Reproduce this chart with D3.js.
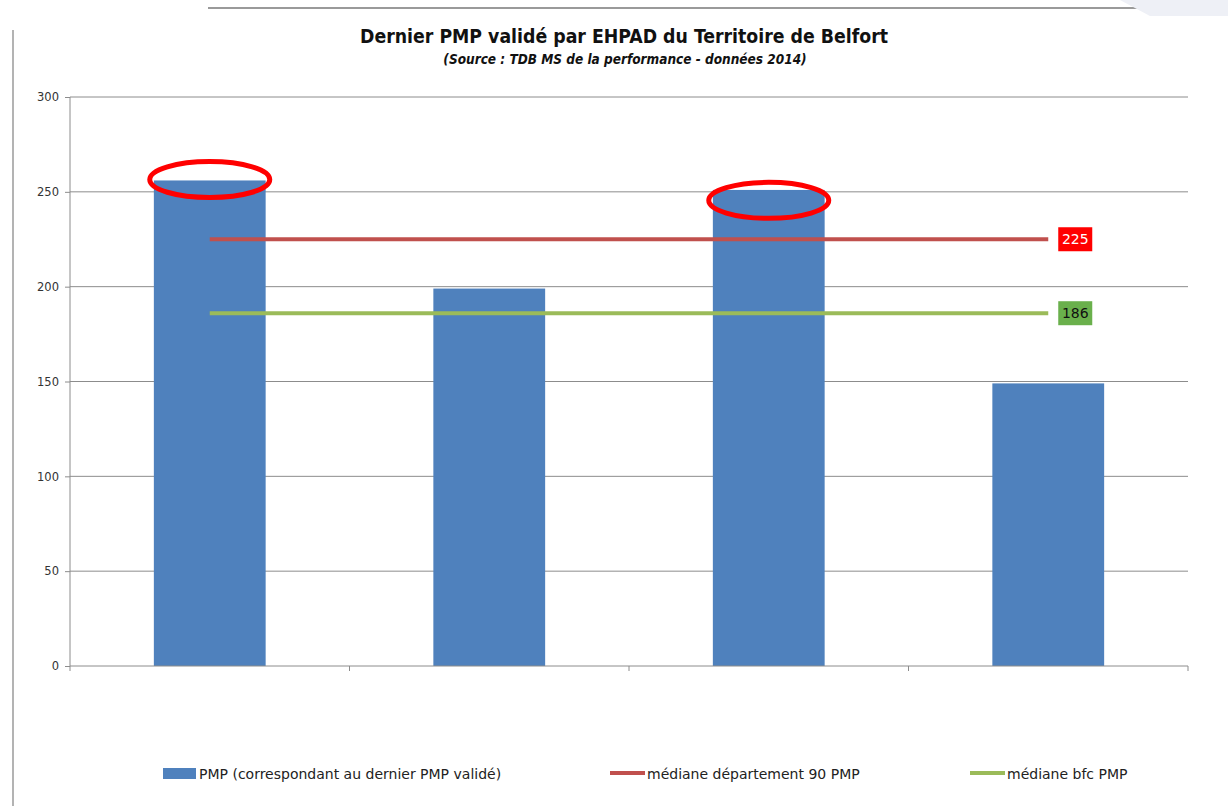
<!DOCTYPE html>
<meta charset="utf-8">
<title>Dernier PMP validé par EHPAD</title>
<style>
  body { margin: 0; background: #fff; }
  svg { font-family: "DejaVu Sans", sans-serif; }
  .grid line { stroke: #8c8c8c; stroke-width: 1px; }
  .axis path, .axis line { stroke: #8c8c8c; }
  .axis text { fill: #333; font-size: 11.5px; font-family: "DejaVu Sans", sans-serif; }
  .legend text { font-size: 14px; fill: #222; }
  .cond { font-family: "DejaVu Sans Condensed", "DejaVu Sans", sans-serif; }
</style>
<body>
<script src="https://cdn.jsdelivr.net/npm/d3@7"></script>
<script>

var width = 1228,
    height = 806;

// data
var categories = ["EHPAD 1", "EHPAD 2", "EHPAD 3", "EHPAD 4"];
var pmpValues = [256, 199, 251, 149];
var medianDept = 225;
var medianBfc = 186;
var yTicks = [0, 50, 100, 150, 200, 250, 300];
// circled bars (index, centre value)
var circled = [[0, 256.5], [2, 245.5]];

var margin = {top: 97, right: 40, bottom: 140, left: 70};

var svg = d3.select("body").append("svg")
  .attr("width", width)
  .attr("height", height);

// page decorations
svg.append("line").attr("x1", 208).attr("x2", width).attr("y1", 8).attr("y2", 8)
  .attr("stroke", "#9a9a9a").attr("stroke-width", 2);
svg.append("line").attr("x1", 13).attr("x2", 13).attr("y1", 30).attr("y2", height)
  .attr("stroke", "#9a9a9a").attr("stroke-width", 1.5);
svg.append("path").attr("d", "M1120,0 L1228,0 L1228,16 L1150,16 Z").attr("fill", "#eef0f6");

var x = d3.scaleBand()
  .domain(categories)
  .range([margin.left, 1188])
  .padding(0);

var y = d3.scaleLinear()
  .domain([0, 300])
  .range([666, margin.top]);

var barW = x.bandwidth() * 0.4;

// title
svg.append("text")
  .attr("class", "cond")
  .attr("x", 624).attr("y", 43)
  .attr("text-anchor", "middle")
  .attr("font-weight", "bold")
  .attr("font-size", "19.3px")
  .attr("fill", "#111")
  .text("Dernier PMP validé par EHPAD du Territoire de Belfort");

svg.append("text")
  .attr("class", "cond")
  .attr("x", 625).attr("y", 64)
  .attr("text-anchor", "middle")
  .attr("font-weight", "bold")
  .attr("font-style", "italic")
  .attr("font-size", "13.5px")
  .attr("fill", "#111")
  .text("(Source : TDB MS de la performance - données 2014)");

// gridlines
svg.append("g").attr("class", "grid")
  .selectAll("line").data(yTicks.filter(function(d) { return d > 0; }))
  .enter().append("line")
  .attr("x1", margin.left).attr("x2", 1188)
  .attr("y1", function(d) { return y(d); })
  .attr("y2", function(d) { return y(d); });

// y axis
var yAxis = svg.append("g").attr("class", "axis")
  .attr("transform", "translate(" + margin.left + ",0)")
  .call(d3.axisLeft(y).tickValues(yTicks).tickSize(5).tickPadding(6));
yAxis.select(".domain").attr("d", "M0," + y(300) + "V" + y(0));

// bars
svg.selectAll(".bar").data(pmpValues)
  .enter().append("rect")
  .attr("class", "bar")
  .attr("x", function(d, i) { return x(categories[i]) + (x.bandwidth() - barW) / 2; })
  .attr("width", barW)
  .attr("y", function(d) { return y(d); })
  .attr("height", function(d) { return y(0) - y(d); })
  .attr("fill", "#4f81bd");

// x axis
var xAxis = svg.append("g").attr("class", "axis")
  .attr("transform", "translate(0," + y(0) + ")");
xAxis.append("line").attr("x1", margin.left).attr("x2", 1188).attr("y1", 0).attr("y2", 0);
xAxis.selectAll(".tk").data(categories.concat(["end"]))
  .enter().append("line")
  .attr("x1", function(d, i) { return margin.left + i * x.step(); })
  .attr("x2", function(d, i) { return margin.left + i * x.step(); })
  .attr("y1", 0).attr("y2", 5);

// median lines
var x0 = x(categories[0]) + x.bandwidth() / 2,
    x1 = x(categories[3]) + x.bandwidth() / 2;

function medianLine(v, color, boxColor, textColor) {
  svg.append("line")
    .attr("x1", x0).attr("x2", x1)
    .attr("y1", y(v)).attr("y2", y(v))
    .attr("stroke", color).attr("stroke-width", 4);
  svg.append("rect")
    .attr("x", x1 + 10).attr("y", y(v) - 12)
    .attr("width", 34).attr("height", 24)
    .attr("fill", boxColor);
  svg.append("text")
    .attr("x", x1 + 27).attr("y", y(v) + 5)
    .attr("text-anchor", "middle")
    .attr("font-size", "14px")
    .attr("fill", textColor)
    .text(v);
}
medianLine(medianDept, "#c0504d", "#ff0000", "#fff");
medianLine(medianBfc, "#9bbb59", "#6ab04c", "#111");

// red circles
svg.selectAll(".circ").data(circled)
  .enter().append("ellipse")
  .attr("cx", function(d) { return x(categories[d[0]]) + x.bandwidth() / 2; })
  .attr("cy", function(d) { return y(d[1]); })
  .attr("rx", 60).attr("ry", 18)
  .attr("fill", "none")
  .attr("stroke", "#ff0000")
  .attr("stroke-width", 5);

// legend
var lg = svg.append("g").attr("class", "legend");
lg.append("rect").attr("x", 163).attr("y", 768).attr("width", 33).attr("height", 11).attr("fill", "#4f81bd");
lg.append("text").attr("x", 199).attr("y", 779).text("PMP (correspondant au dernier PMP validé)");
lg.append("line").attr("x1", 610).attr("x2", 645).attr("y1", 773).attr("y2", 773).attr("stroke", "#c0504d").attr("stroke-width", 4);
lg.append("text").attr("x", 647).attr("y", 779).text("médiane département 90 PMP");
lg.append("line").attr("x1", 970).attr("x2", 1005).attr("y1", 773).attr("y2", 773).attr("stroke", "#9bbb59").attr("stroke-width", 4);
lg.append("text").attr("x", 1007).attr("y", 779).text("médiane bfc PMP");

</script>
</body>
